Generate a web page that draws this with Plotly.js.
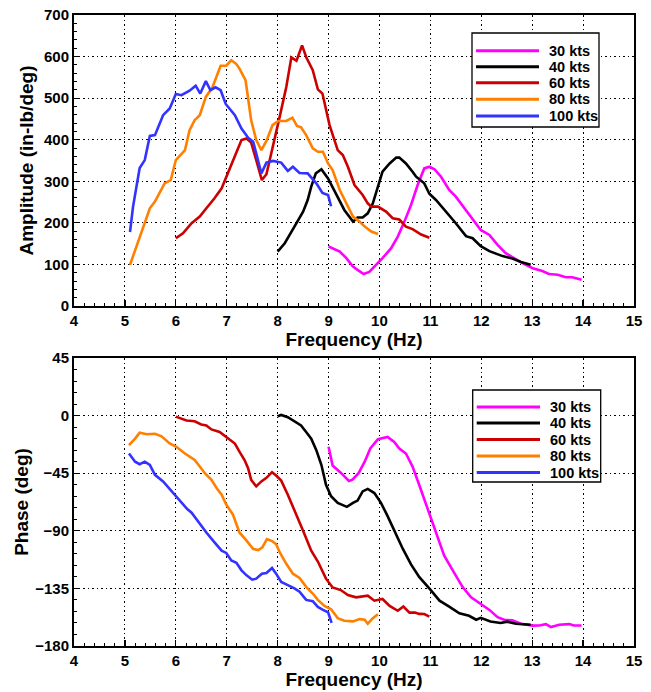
<!DOCTYPE html>
<html>
<head>
<meta charset="utf-8">
<script src="https://cdn.plot.ly/plotly-3.0.1.min.js"></script>
<style>html,body{margin:0;padding:0;background:#fff;}#chart{width:651px;height:692px;}</style>
</head>
<body>
<div id="chart"></div>
<script>
// Series names
var seriesNames = ['30 kts', '40 kts', '60 kts', '80 kts', '100 kts'];

// Amplitude (in-lb/deg) vs Frequency (Hz)
var amp30_x = [9.00,9.12,9.22,9.35,9.48,9.57,9.69,9.80,9.94,10.06,10.23,10.36,10.49,10.62,10.75,10.88,10.98,11.08,11.21,11.37,11.50,11.67,11.83,11.99,12.16,12.32,12.48,12.68,12.81,13.01,13.20,13.33,13.50,13.66,13.79,13.97];
var amp30_y = [143,136,131,115,95,87,77,82,99,115,139,167,203,243,291,331,335,329,311,279,263,235,208,183,171,147,127,112,103,91,84,77,75,69,69,63];

var amp40_x = [8.00,8.14,8.33,8.50,8.59,8.66,8.75,8.86,8.99,9.15,9.31,9.48,9.57,9.67,9.77,9.87,9.97,10.06,10.20,10.33,10.39,10.52,10.65,10.72,10.88,10.98,11.11,11.31,11.50,11.70,11.83,11.99,12.16,12.42,12.61,12.78,12.97];
var amp40_y = [131,151,191,227,255,287,319,329,307,267,231,203,213,213,223,247,287,323,343,357,357,343,323,311,295,270,255,227,199,168,163,144,132,120,114,106,99];

var amp60_x = [6.00,6.14,6.31,6.47,6.60,6.76,6.90,7.03,7.16,7.29,7.39,7.48,7.58,7.69,7.78,7.91,8.04,8.17,8.27,8.37,8.48,8.56,8.69,8.79,8.88,9.02,9.18,9.28,9.38,9.51,9.67,9.77,9.84,9.97,10.13,10.26,10.39,10.52,10.65,10.82,10.98];
var amp60_y = [163,175,199,215,235,259,283,323,363,399,403,393,351,303,317,383,455,527,598,590,627,599,567,521,511,435,375,363,335,291,267,247,239,239,227,211,208,191,185,172,164];

var amp80_x = [5.10,5.29,5.49,5.59,5.78,5.90,6.00,6.18,6.27,6.37,6.47,6.59,6.72,6.88,6.99,7.09,7.19,7.25,7.37,7.48,7.58,7.68,7.78,7.90,8.01,8.17,8.29,8.38,8.46,8.56,8.69,8.79,8.89,8.99,9.08,9.22,9.35,9.48,9.61,9.71,9.84,9.97];
var amp80_y = [99,167,235,251,295,303,351,375,423,447,459,503,526,578,578,591,582,571,543,447,399,375,397,435,445,445,453,433,430,411,379,371,371,343,327,279,247,215,203,191,179,173];

var amp100_x = [5.10,5.16,5.29,5.39,5.49,5.59,5.75,5.88,6.00,6.11,6.27,6.39,6.48,6.59,6.68,6.78,6.88,6.98,7.16,7.29,7.42,7.52,7.68,7.78,7.91,8.07,8.20,8.30,8.43,8.59,8.76,8.88,8.99,9.05];
var amp100_y = [178,239,332,351,409,411,459,475,510,507,518,530,511,541,519,526,519,486,459,427,405,395,319,345,349,345,325,335,320,319,295,272,267,240];

// Phase (deg) vs Frequency (Hz)
var ph30_x = [9.00,9.08,9.25,9.40,9.47,9.59,9.71,9.82,9.97,10.16,10.29,10.39,10.52,10.65,10.78,10.95,11.11,11.27,11.44,11.63,11.80,11.99,12.16,12.32,12.45,12.61,12.78,13.01,13.14,13.27,13.37,13.53,13.73,13.82,13.97];
var ph30_y = [-24.4,-39,-45,-51,-50,-45,-36,-25.7,-18.5,-16.7,-20.6,-25.7,-29.6,-39.8,-54,-73.3,-92.6,-109.3,-120.9,-133.8,-142,-147.1,-151.8,-157.5,-159.5,-160,-162.6,-164.1,-164,-162.9,-165.2,-163.4,-162.9,-164,-164];

var ph40_x = [8.00,8.07,8.20,8.33,8.46,8.56,8.66,8.76,8.86,8.95,9.05,9.18,9.36,9.48,9.57,9.67,9.77,9.90,10.03,10.16,10.29,10.46,10.62,10.78,11.00,11.10,11.18,11.37,11.57,11.76,11.90,11.99,12.18,12.38,12.51,12.68,12.85,12.97];
var ph40_y = [-0.5,0.5,-1.3,-4.6,-7.7,-12.8,-18,-27,-38.6,-54,-63,-68.2,-71.3,-68.2,-66.4,-59.2,-57.3,-60.5,-68.2,-78.5,-90,-104.2,-116.3,-126,-136,-141,-144.6,-149.2,-154.4,-156.4,-159.5,-158,-160.8,-162,-161,-162.6,-162.8,-163.4];

var ph60_x = [6.00,6.08,6.21,6.37,6.50,6.60,6.70,6.86,6.99,7.16,7.25,7.35,7.42,7.48,7.58,7.68,7.78,7.89,7.97,8.07,8.20,8.33,8.50,8.66,8.79,8.95,9.08,9.24,9.38,9.54,9.77,9.90,10.06,10.20,10.36,10.47,10.59,10.70,10.78,10.88,10.98];
var ph60_y = [-0.8,-2,-3.9,-4.4,-6.9,-7.7,-10.8,-12.8,-16.7,-21.8,-28.2,-34.7,-41.1,-50.2,-55.3,-51.4,-48.6,-44.2,-46.8,-50.8,-61.8,-74.6,-90,-105.5,-114,-127.4,-134.3,-136.3,-140.2,-142,-140.7,-144.6,-143.3,-148.7,-152.5,-149.2,-153.9,-153.8,-154.9,-155,-157];

var ph80_x = [5.08,5.20,5.29,5.43,5.59,5.72,5.88,6.01,6.18,6.37,6.47,6.57,6.70,6.80,6.90,6.99,7.12,7.25,7.39,7.52,7.62,7.70,7.79,7.89,7.97,8.04,8.17,8.30,8.43,8.56,8.69,8.79,8.92,9.05,9.18,9.31,9.48,9.61,9.71,9.77,9.87,9.97];
var ph80_y = [-23,-18,-13.4,-14.6,-14.2,-16.2,-21.8,-24.4,-29.6,-34.7,-39.8,-45,-50.2,-56.6,-61.8,-69.5,-77.2,-91.3,-97.7,-104.2,-105,-102.9,-96.5,-98,-100.4,-106.7,-115.8,-123.5,-126.8,-133.8,-139,-144,-148.7,-151.3,-158.2,-160.3,-160.8,-159,-159.5,-162.6,-158.2,-155.2];

var ph100_x = [5.08,5.20,5.29,5.39,5.49,5.59,5.75,5.92,6.08,6.22,6.31,6.47,6.60,6.76,6.90,6.99,7.09,7.19,7.29,7.39,7.50,7.58,7.69,7.78,7.89,7.97,8.07,8.20,8.33,8.43,8.56,8.69,8.79,8.89,8.99,9.06];
var ph100_y = [-29.6,-36,-38,-36,-38.6,-46.3,-51.4,-59,-66.9,-72.8,-75.9,-84.9,-91.3,-99,-105.5,-107.3,-113.2,-115,-120.9,-124.8,-128.2,-127.4,-123.5,-123,-119,-123.5,-130,-132.5,-135,-137.6,-144,-145,-149.5,-151.8,-153.6,-162];

var colors = ['#ff00ff', '#000000', '#cc0000', '#ff8000', '#3333ff'];

var ampX = [amp30_x, amp40_x, amp60_x, amp80_x, amp100_x];
var ampY = [amp30_y, amp40_y, amp60_y, amp80_y, amp100_y];
var phX = [ph30_x, ph40_x, ph60_x, ph80_x, ph100_x];
var phY = [ph30_y, ph40_y, ph60_y, ph80_y, ph100_y];

var traces = [];
for (var i = 0; i < seriesNames.length; i++) {
  traces.push({
    x: ampX[i], y: ampY[i], type: 'scatter', mode: 'lines', name: seriesNames[i],
    line: {color: colors[i], width: 2.6}, xaxis: 'x', yaxis: 'y', showlegend: false
  });
}
for (var j = 0; j < seriesNames.length; j++) {
  traces.push({
    x: phX[j], y: phY[j], type: 'scatter', mode: 'lines', name: seriesNames[j],
    line: {color: colors[j], width: 2.6}, xaxis: 'x2', yaxis: 'y2', showlegend: false
  });
}

var fontFam = 'Liberation Sans, Arial, Helvetica, sans-serif';
var tickFont = {family: fontFam, size: 15, color: '#000', weight: 'bold'};
var titleFont = {family: fontFam, size: 19, color: '#000', weight: 'bold'};

// Figure / plot-area geometry in pixels
var M = {l: 74, r: 17, t: 15, b: 46};
var W = 651, H = 692;
var PW = W - M.l - M.r, PH = H - M.t - M.b;
function px(x) { return (x - M.l) / PW; }
function py(y) { return (H - M.b - y) / PH; }

// Legend boxes (drawn as shapes + text) — one per panel
function buildLegend(box, rowsY, lineX0, lineX1, textX, shapes, annots) {
  shapes.push({type: 'rect', xref: 'paper', yref: 'paper', x0: px(box[0]), x1: px(box[1]),
    y0: py(box[3]), y1: py(box[2]), line: {color: '#000', width: 1.3}, fillcolor: '#fff', layer: 'above'});
  for (var k = 0; k < seriesNames.length; k++) {
    shapes.push({type: 'line', xref: 'paper', yref: 'paper', x0: px(lineX0), x1: px(lineX1),
      y0: py(rowsY[k]), y1: py(rowsY[k]), line: {color: colors[k], width: 3}, layer: 'above'});
    annots.push({xref: 'paper', yref: 'paper', x: px(textX), y: py(rowsY[k]), xanchor: 'left', yanchor: 'middle',
      text: seriesNames[k], showarrow: false, borderpad: 0,
      font: {family: fontFam, size: 14.5, color: '#000', weight: 'bold'}});
  }
}
var shapes = [], annots = [];
buildLegend([472, 599, 33, 127], [50.7, 66.7, 82.7, 99.3, 116], 476, 539, 548, shapes, annots);
buildLegend([472.7, 600.7, 390, 482], [407, 423, 439.5, 456, 472.5], 476.7, 540, 549, shapes, annots);

function xAxis(anchor) {
  return {
    anchor: anchor, range: [4, 15], dtick: 1, tick0: 4, autorange: false,
    showline: true, linecolor: '#000', linewidth: 2, mirror: true,
    ticks: 'inside', ticklen: 6, tickwidth: 1.2, tickcolor: '#000',
    minor: {dtick: 0.2, ticks: 'inside', ticklen: 3, tickwidth: 1, tickcolor: '#000', showgrid: false},
    showgrid: true, gridcolor: '#000', gridwidth: 1, griddash: '1.5px,3px',
    zeroline: false, tickfont: tickFont,
    title: {text: 'Frequency (Hz)', font: titleFont, standoff: 4}
  };
}

// top panel spans pixel rows 15..306, bottom panel 358..646
var layout = {
  width: W, height: H,
  margin: M,
  paper_bgcolor: '#fff', plot_bgcolor: '#fff',
  showlegend: false,
  xaxis: xAxis('y'),
  xaxis2: xAxis('y2'),
  yaxis: {
    domain: [py(306), 1], anchor: 'x', range: [0, 700], dtick: 100, autorange: false,
    showline: true, linecolor: '#000', linewidth: 2, mirror: true,
    ticks: 'inside', ticklen: 6, tickwidth: 1.2, tickcolor: '#000',
    minor: {dtick: 20, ticks: 'inside', ticklen: 3, tickwidth: 1, tickcolor: '#000', showgrid: false},
    showgrid: true, gridcolor: '#000', gridwidth: 1, griddash: '1.5px,3px',
    zeroline: false, tickfont: tickFont,
    title: {text: 'Amplitude (in-lb/deg)', font: titleFont, standoff: 5}
  },
  yaxis2: {
    domain: [0, py(358)], anchor: 'x2', range: [-180, 45], dtick: 45, tick0: 0, autorange: false,
    showline: true, linecolor: '#000', linewidth: 2, mirror: true,
    ticks: 'inside', ticklen: 6, tickwidth: 1.2, tickcolor: '#000',
    minor: {dtick: 9, ticks: 'inside', ticklen: 3, tickwidth: 1, tickcolor: '#000', showgrid: false},
    showgrid: true, gridcolor: '#000', gridwidth: 1, griddash: '1.5px,3px',
    zeroline: false, tickfont: tickFont,
    title: {text: 'Phase (deg)', font: titleFont, standoff: 2}
  },
  shapes: shapes,
  annotations: annots
};

Plotly.newPlot('chart', traces, layout, {displayModeBar: false, staticPlot: true});
</script>
</body>
</html>
